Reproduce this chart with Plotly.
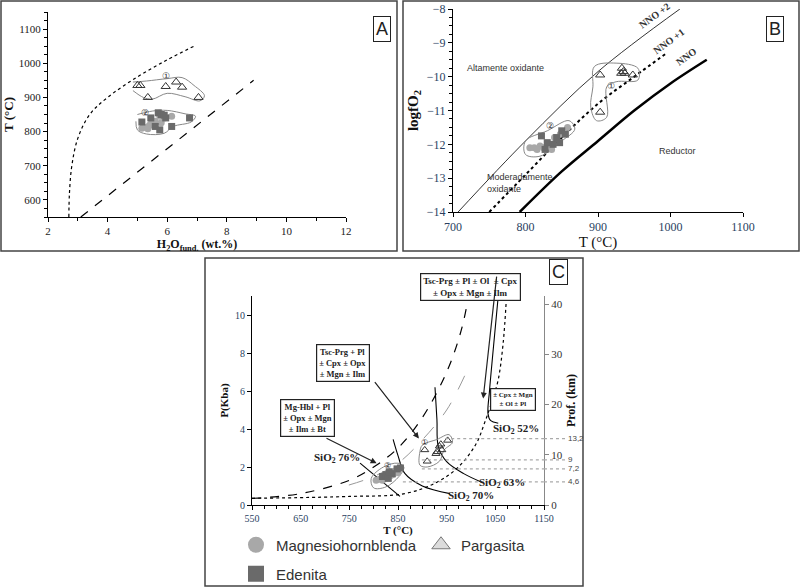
import plotly.graph_objects as go

# ---------- Panel A data ----------
a_prg_x = [5.0, 5.1, 5.35, 5.95, 6.3, 6.5, 7.05]
a_prg_y = [935, 935, 900, 932, 945, 930, 900]
a_hbl_x = [5.15, 5.3, 5.4, 5.45, 5.55, 5.35, 5.6, 5.75, 5.9, 6.15, 5.8]
a_hbl_y = [810, 812, 818, 822, 822, 808, 830, 845, 840, 845, 826]
a_ed_x = [5.15, 5.45, 5.7, 5.8, 5.9, 5.95, 5.75, 6.15, 6.75, 5.6]
a_ed_y = [828, 840, 855, 850, 848, 840, 805, 815, 840, 815]
a_dot_x = [2.7, 2.72, 2.8, 3.0, 3.4, 4.0, 5.0, 6.0, 6.9]
a_dot_y = [550, 620, 700, 780, 850, 900, 960, 1010, 1050]
a_dash_x = [3.1, 8.9]
a_dash_y = [550, 950]
a_g1_x = [4.85, 5.3, 6.0, 6.5, 6.9, 7.25, 7.1, 6.6, 6.0, 5.5, 5.2, 4.85]
a_g1_y = [945, 948, 955, 958, 935, 905, 890, 902, 912, 895, 900, 920]
a_g2_x = [5.0, 5.5, 6.0, 6.6, 6.95, 6.8, 6.2, 5.9, 5.3, 5.0, 4.95]
a_g2_y = [850, 860, 862, 852, 845, 828, 815, 795, 793, 805, 830]

# ---------- Panel B data ----------
b_prg_x = [903, 933, 935, 932, 937, 948, 903]
b_prg_y = [-9.95, -9.75, -9.85, -9.9, -9.9, -9.95, -11.05]
b_hbl_x = [806, 812, 820, 825, 832, 840, 848, 858, 836, 816]
b_hbl_y = [-12.1, -12.1, -12.05, -12.1, -12.0, -11.8, -11.7, -11.5, -12.15, -12.15]
b_ed_x = [822, 830, 838, 843, 850, 855, 827, 847]
b_ed_y = [-11.75, -11.95, -12.0, -11.8, -11.6, -11.7, -12.15, -11.95]
nno2_x = [707, 800, 900, 1013]
nno2_y = [-14, -11.9, -9.85, -8.0]
nno1_x = [750, 800, 850, 900, 950, 995]
nno1_y = [-14, -12.9, -11.8, -10.8, -10.0, -9.3]
nno_x = [792, 850, 900, 950, 1000, 1050]
nno_y = [-14, -12.8, -11.9, -11.0, -10.2, -9.5]
b_g1_x = [895, 925, 955, 955, 925, 912, 912, 898, 890, 893, 895]
b_g1_y = [-9.7, -9.6, -9.75, -10.1, -10.15, -10.3, -11.2, -11.3, -10.9, -10.3, -9.7]
b_g2_x = [800, 830, 860, 868, 850, 820, 800, 800]
b_g2_y = [-11.9, -11.6, -11.3, -11.55, -11.9, -12.35, -12.3, -11.9]

# ---------- Panel C data ----------
c_hbl_x = [805, 812, 818, 822, 828, 835, 845, 850, 840]
c_hbl_y = [1.3, 1.35, 1.3, 1.45, 1.5, 1.55, 1.8, 1.7, 1.6]
c_ed_x = [818, 825, 830, 838, 848, 855, 832]
c_ed_y = [1.5, 1.6, 1.4, 1.65, 1.9, 1.95, 1.75]
c_prg_x = [905, 910, 930, 935, 938, 940, 952, 928]
c_prg_y = [2.9, 2.3, 2.8, 3.1, 3.2, 2.9, 3.4, 2.7]
c_dash_x = [550, 650, 750, 800, 850, 900, 950, 980, 995]
c_dash_y = [0.35, 0.6, 1.3, 2.0, 3.0, 4.6, 7.0, 9.2, 11]
c_dot_x = [550, 750, 864, 930, 974, 1010, 1029, 1045, 1056, 1066, 1073]
c_dot_y = [0.35, 0.45, 0.6, 1.2, 2.0, 3.2, 4.4, 5.6, 6.6, 8.5, 11]
c_gdash_x = [749, 800, 850, 899, 950, 987]
c_gdash_y = [1.05, 1.5, 2.2, 3.4, 5.0, 6.8]
si52_x = [1056, 1045, 1038, 1035, 1040, 1056]
si52_y = [11, 8, 6, 4.8, 4.45, 4.3]
si76_x = [772, 854]
si76_y = [2.2, 0.45]
si70_x = [840, 850, 864, 900, 957]
si70_y = [3.45, 2.6, 1.66, 1.0, 0.6]
si63_x = [926, 930, 933, 950, 985, 1022]
si63_y = [6.2, 4.5, 3.06, 2.28, 1.65, 1.2]
c_g1_x = [895, 900, 930, 955, 962, 945, 935, 910, 895, 895]
c_g1_y = [2.8, 3.15, 3.45, 3.7, 3.3, 2.9, 2.3, 2.0, 2.1, 2.8]
c_g2_x = [795, 820, 850, 862, 852, 825, 800, 795]
c_g2_y = [1.4, 2.0, 2.2, 2.0, 1.5, 0.95, 0.9, 1.4]
depth_km = [13.2, 9, 7.2, 4.6]
depth_lbl = ["13,2", "9", "7,2", "4,6"]
depth_start = [947, 899, 899, 860]

HBL = "#a8a8a8"; ED = "#6a6a6a"
fig = go.Figure()

def pts(x, y, sym, color, ax, ay, size=7, lc=None, lw=0):
    fig.add_trace(go.Scatter(x=x, y=y, mode="markers", xaxis=ax, yaxis=ay, showlegend=False,
                             marker=dict(symbol=sym, size=size, color=color,
                                         line=dict(color=lc or color, width=lw))))

def line(x, y, ax, ay, color="black", width=1, dash="solid", shape="spline"):
    fig.add_trace(go.Scatter(x=x, y=y, mode="lines", xaxis=ax, yaxis=ay, showlegend=False,
                             line=dict(color=color, width=width, dash=dash, shape=shape)))

# Panel A
line(a_dot_x, a_dot_y, "x", "y", width=1.2, dash="dot")
line(a_dash_x, a_dash_y, "x", "y", width=1.2, dash="dash")
line(a_g1_x, a_g1_y, "x", "y", color="#888", width=1)
line(a_g2_x, a_g2_y, "x", "y", color="#888", width=1)
pts(a_hbl_x, a_hbl_y, "circle", HBL, "x", "y")
pts(a_ed_x, a_ed_y, "square", ED, "x", "y")
pts(a_prg_x, a_prg_y, "triangle-up-open", "#333", "x", "y", size=8, lw=1)
# Panel B
line(nno2_x, nno2_y, "x2", "y2", width=0.8)
line(nno1_x, nno1_y, "x2", "y2", width=2, dash="dot")
line(nno_x, nno_y, "x2", "y2", width=2.5)
line(b_g1_x, b_g1_y, "x2", "y2", color="#888")
line(b_g2_x, b_g2_y, "x2", "y2", color="#888")
pts(b_hbl_x, b_hbl_y, "circle", HBL, "x2", "y2")
pts(b_ed_x, b_ed_y, "square", ED, "x2", "y2")
pts(b_prg_x, b_prg_y, "triangle-up-open", "#333", "x2", "y2", size=8, lw=1)
# Panel C
line(c_dash_x, c_dash_y, "x3", "y3", width=1.2, dash="dash")
line(c_dot_x, c_dot_y, "x3", "y3", width=1.2, dash="dot")
line(c_gdash_x, c_gdash_y, "x3", "y3", color="#999", width=1, dash="longdash")
for sx, sy in [(si52_x, si52_y), (si76_x, si76_y), (si70_x, si70_y), (si63_x, si63_y)]:
    line(sx, sy, "x3", "y3", width=1.1)
line(c_g1_x, c_g1_y, "x3", "y3", color="#888")
line(c_g2_x, c_g2_y, "x3", "y3", color="#888")
pts(c_hbl_x, c_hbl_y, "circle", HBL, "x3", "y3")
pts(c_ed_x, c_ed_y, "square", ED, "x3", "y3")
pts(c_prg_x, c_prg_y, "triangle-up-open", "#333", "x3", "y3", size=7, lw=1)
fig.add_trace(go.Scatter(x=[None], y=[None], xaxis="x3", yaxis="y4", showlegend=False))

# legend-only traces
fig.add_trace(go.Scatter(x=[None], y=[None], mode="markers", name="Magnesiohornblenda", legend="legend",
                         marker=dict(symbol="circle", size=18, color=HBL)))
fig.add_trace(go.Scatter(x=[None], y=[None], mode="markers", name="Pargasita", legend="legend",
                         marker=dict(symbol="triangle-up", size=18, color="#dcdcdc", line=dict(color="#777", width=1))))
fig.add_trace(go.Scatter(x=[None], y=[None], mode="markers", name="Edenita", legend="legend2",
                         marker=dict(symbol="square", size=16, color=ED)))

serif = "Liberation Serif"
ax_common = dict(showgrid=False, zeroline=False, showline=True, linecolor="black", linewidth=1, automargin=False,
                 ticks="outside", ticklen=4, tickcolor="black", tickfont=dict(family=serif, size=11, color="#222"))
X = lambda px: px / 800
Y = lambda py: 1 - py / 588
tf = lambda s: dict(family=serif, size=s, color="#111")

fig.update_layout(
    width=800, height=588, margin=dict(l=0, r=0, t=0, b=0, autoexpand=False),
    paper_bgcolor="white", plot_bgcolor="white",
    xaxis=dict(ax_common, domain=[X(48), X(346)], range=[2, 12], dtick=2, anchor="y",
               minor=dict(ticks="outside", dtick=1, ticklen=3),
               title=dict(text="<b>H<sub>2</sub>O<sub>fund.</sub> (wt.%)</b>", font=tf(12), standoff=2)),
    yaxis=dict(ax_common, domain=[Y(217), Y(12)], range=[550, 1150], dtick=100, anchor="x",
               minor=dict(ticks="outside", dtick=25, ticklen=3),
               title=dict(text="<b>T (°C)</b>", font=tf(13), standoff=2)),
    xaxis2=dict(ax_common, domain=[X(453), X(743)], range=[700, 1100], dtick=100, anchor="y2",
                tickfont=dict(family=serif, size=12),
                title=dict(text="T (°C)", font=tf(15), standoff=2)),
    yaxis2=dict(ax_common, domain=[Y(212), Y(9)], range=[-14, -8], dtick=1, anchor="x2",
                tickfont=dict(family=serif, size=12), minor=dict(ticks="outside", dtick=0.25, ticklen=3),
                title=dict(text="<b>logfO<sub>2</sub></b>", font=tf(15), standoff=4)),
    xaxis3=dict(ax_common, domain=[X(252), X(544)], range=[550, 1150], tick0=550, dtick=100, anchor="y3",
                tickfont=dict(family=serif, size=10), minor=dict(ticks="outside", dtick=25, ticklen=3),
                title=dict(text="<b>T (°C)</b>", font=tf(11), standoff=2)),
    yaxis3=dict(ax_common, domain=[Y(505), Y(296)], range=[0, 11], tickvals=[0, 2, 4, 6, 8, 10], anchor="x3",
                tickfont=dict(family=serif, size=10),
                title=dict(text="<b>P(Kba)</b>", font=tf(11), standoff=4)),
    yaxis4=dict(ax_common, overlaying="y3", side="right", anchor="x3", range=[0, 41.6], dtick=10,
                linecolor="#888", tickcolor="#888", tickfont=dict(family=serif, size=11, color="#333"),
                title=dict(text="<b>Prof. (km)</b>", font=tf(12), standoff=4)),
    legend=dict(orientation="h", x=X(236), y=Y(545), yanchor="middle", xanchor="left", entrywidth=140,
                font=dict(family="Liberation Sans", size=15, color="#333"), bgcolor="rgba(0,0,0,0)"),
    legend2=dict(orientation="h", x=X(236), y=Y(574), yanchor="middle", xanchor="left",
                 font=dict(family="Liberation Sans", size=15, color="#333"), bgcolor="rgba(0,0,0,0)"),
)

shapes = []
for x0, y0, x1, y1 in [(1, 1, 397, 251), (403, 1, 799, 251), (205, 258, 583, 586)]:
    shapes.append(dict(type="rect", xref="paper", yref="paper", x0=X(x0), x1=X(x1), y0=Y(y1), y1=Y(y0),
                       line=dict(color="#444", width=1.5)))
for km, st in zip(depth_km, depth_start):
    shapes.append(dict(type="line", xref="x3", yref="y4", x0=st, x1=1150, y0=km, y1=km,
                       line=dict(color="#aaa", width=1.2, dash="dot")))
    shapes.append(dict(type="line", xref="paper", yref="y4", x0=X(544), x1=X(565), y0=km, y1=km,
                       line=dict(color="#aaa", width=1.2, dash="dot")))
fig.update_layout(shapes=shapes)

ann = []
def txt(x, y, t, xr, yr, size=10, fam="Liberation Sans", color="#333", **kw):
    ann.append(dict(x=x, y=y, text=t, xref=xr, yref=yr, showarrow=False,
                    font=dict(family=fam, size=size, color=color), **kw))
def box(x, y, t):
    ann.append(dict(x=x, y=y, text=t, xref="paper", yref="paper", showarrow=False, bordercolor="#222",
                    borderwidth=1, borderpad=2, bgcolor="white", align="center",
                    font=dict(family="Liberation Sans", size=18, color="#222")))
box(X(382), Y(16), "A"); box(X(784), Y(16), "B"); box(X(568), Y(272), "C")
# panel A labels
txt(5.95, 962, "①", "x", "y", size=9, fam="DejaVu Sans")
txt(5.25, 855, "②", "x", "y", size=9, fam="DejaVu Sans")
# panel B labels
txt(773, -9.75, "Altamente oxidante", "x2", "y2", size=9)
txt(793, -13.15, "Moderadamente<br>oxidante", "x2", "y2", size=9, align="left")
txt(1010, -12.2, "Reductor", "x2", "y2", size=9)
txt(978, -8.2, "<b>NNO +2</b>", "x2", "y2", size=10, fam=serif, textangle=-36)
txt(997, -8.95, "<b>NNO +1</b>", "x2", "y2", size=10, fam=serif, textangle=-36)
txt(1022, -9.4, "<b>NNO</b>", "x2", "y2", size=10, fam=serif, textangle=-36)
txt(918, -10.28, "①", "x2", "y2", size=9, fam="DejaVu Sans")
txt(834, -11.45, "②", "x2", "y2", size=9, fam="DejaVu Sans")
# panel C labels
txt(905, 3.3, "①", "x3", "y3", size=8, fam="DejaVu Sans")
txt(828, 2.1, "②", "x3", "y3", size=8, fam="DejaVu Sans")
txt(725, 2.45, "<b>SiO<sub>2</sub> 76%</b>", "x3", "y3", size=11, fam=serif, color="#222")
txt(1001, 0.5, "<b>SiO<sub>2</sub> 70%</b>", "x3", "y3", size=11, fam=serif, color="#222")
txt(1063, 1.14, "<b>SiO<sub>2</sub> 63%</b>", "x3", "y3", size=11, fam=serif, color="#222")
txt(1092, 4.0, "<b>SiO<sub>2</sub> 52%</b>", "x3", "y3", size=11, fam=serif, color="#222")
for km, lb in zip(depth_km, depth_lbl):
    ann.append(dict(x=X(566), y=km, xref="paper", yref="y4", text=lb, showarrow=False, xanchor="left",
                    font=dict(family="Liberation Sans", size=8, color="#444")))
def cbox(x, y, t, xr="x3", yr="y3", size=8.5):
    ann.append(dict(x=x, y=y, text=t, xref=xr, yref=yr, showarrow=False, bordercolor="#222", borderwidth=1.2,
                    borderpad=2, bgcolor="white", align="center",
                    font=dict(family=serif, size=size, color="#222")))
cbox(X(470), Y(287), "<b>Tsc-Prg ± Pl ± Ol  ± Cpx<br>± Opx ± Mgn ± Ilm</b>", "paper", "paper", size=9)
cbox(738, 7.45, "<b>Tsc-Prg + Pl<br>± Cpx ± Opx<br>± Mgn ± Ilm</b>")
cbox(665, 4.6, "<b>Mg-Hbl + Pl<br>± Opx ± Mgn<br>± Ilm ± Bt</b>")
cbox(1087, 5.55, "<b>± Cpx ± Mgn<br>± Ol ± Pl</b>", size=7)
def arrow(x0, y0, x1, y1):
    ann.append(dict(x=x1, y=y1, ax=x0, ay=y0, xref="x3", yref="y3", axref="x3", ayref="y3", text="",
                    showarrow=True, arrowhead=2, arrowsize=1, arrowwidth=1.2, arrowcolor="#222"))
arrow(1053, 12.1, 1025, 5.6)
arrow(800, 6.55, 893, 3.5)
arrow(700, 3.55, 806, 2.2)
fig.update_layout(annotations=ann)

fig.write_html("out.html", config={"displayModeBar": False},
               post_script="document.body.style.margin='0';document.body.style.overflow='hidden';")
